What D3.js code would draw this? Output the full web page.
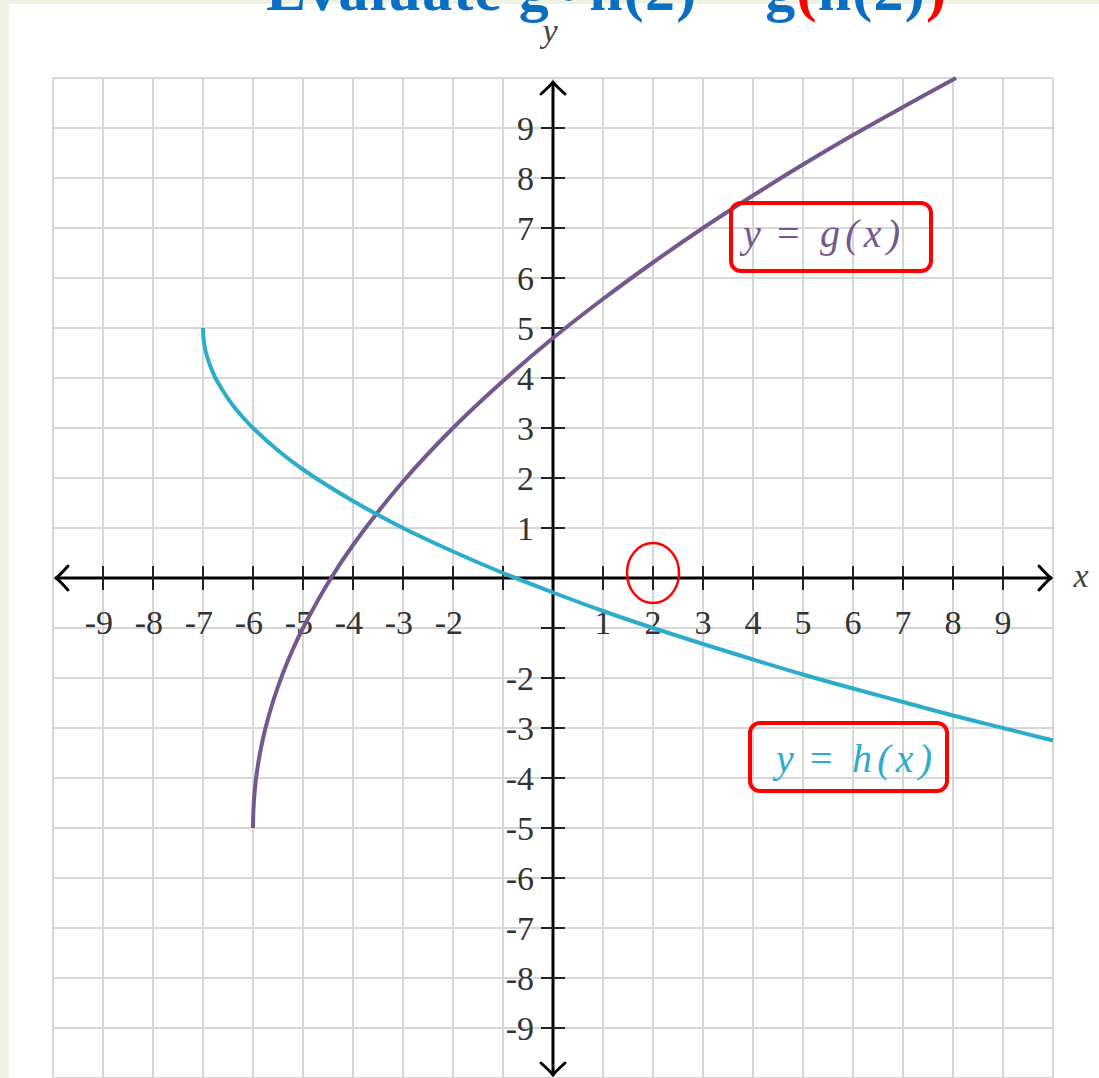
<!DOCTYPE html>
<html>
<head>
<meta charset="utf-8">
<script src="https://cdn.jsdelivr.net/npm/d3@7"></script>
<style>
  html, body { margin: 0; padding: 0; background: #eef2e2; overflow: hidden; }
  svg { display: block; }
</style>
</head>
<body>
<svg id="chart" width="1099" height="1078"></svg>
<script>
// Axis ticks (both axes use the same integer ticks)
const tickValues = [-9, -8, -7, -6, -5, -4, -3, -2, -1, 1, 2, 3, 4, 5, 6, 7, 8, 9];
const unlabeledTicks = [-1];
const gridValues = d3.range(-10, 11);

// y = g(x): purple curve, starts at (-6, -5) and leaves the grid at the top
const gX = [-6, -5.99, -5.97, -5.93, -5.85, -5.75, -5.6, -5.4, -5.2, -5, -4.5, -4, -3, -2, -1, 0, 1, 2, 3, 4, 5, 6, 7, 8.06];
const gY = [-5, -4.6, -4.31, -3.94, -3.45, -3, -2.47, -1.9, -1.42, -1, -0.1, 0.66, 1.93, 3, 3.94, 4.8, 5.58, 6.31, 7, 7.65, 8.27, 8.86, 9.42, 10];

// y = h(x): blue curve, starts at (-7, 5) and leaves the grid at the right
const hX = [-7, -6.99, -6.97, -6.93, -6.85, -6.75, -6.6, -6.4, -6.2, -6, -5.5, -5, -4, -3, -2, -1, 0, 1, 2, 3, 4, 5, 6, 7, 8, 9, 10];
const hY = [5, 4.8, 4.65, 4.47, 4.23, 4, 3.74, 3.45, 3.21, 3, 2.55, 2.17, 1.54, 1, 0.53, 0.1, -0.29, -0.66, -1, -1.32, -1.63, -1.93, -2.21, -2.48, -2.75, -3, -3.25];

const curveLabels = [
  { lhs: "y", rel: "=", rhs: "g(x)" },
  { lhs: "y", rel: "=", rhs: "h(x)" }
];
const curveColors = ["#75578f", "#2caccb"];

// highlighted input value on the x axis
const markedX = 2;

// heading pieces (colour per piece)
const titleParts = [
  { text: "Evaluate g\u2218h(2) = g", color: "#0a6fc2" },
  { text: "(", color: "#ff0000" },
  { text: "h(2)", color: "#0a6fc2" },
  { text: ")", color: "#ff0000" }
];

const W = 1099, H = 1078;
const svg = d3.select("#chart");

// page panel
svg.append("rect").attr("x", 9).attr("y", 4).attr("width", W - 9).attr("height", H - 4).attr("fill", "#ffffff");

const x = d3.scaleLinear().domain([-10, 10]).range([53, 1053]);
const y = d3.scaleLinear().domain([-10, 10]).range([1078, 78]);

// heading
const title = svg.append("text")
  .attr("x", 266).attr("y", 10)
  .attr("font-family", "'Liberation Serif', 'Times New Roman', serif")
  .attr("font-weight", "bold")
  .attr("font-size", 60)
  .attr("textLength", 680)
  .attr("lengthAdjust", "spacing");
title.selectAll("tspan").data(titleParts).join("tspan")
  .attr("fill", d => d.color)
  .text(d => d.text);

// grid
const grid = svg.append("g").attr("stroke", "#d6d6d6").attr("stroke-width", 2);
grid.selectAll("line.v").data(gridValues).join("line").attr("class", "v")
  .attr("x1", d => x(d)).attr("x2", d => x(d))
  .attr("y1", y(10)).attr("y2", y(-10));
grid.selectAll("line.h").data(gridValues).join("line").attr("class", "h")
  .attr("x1", x(-10)).attr("x2", x(10))
  .attr("y1", d => y(d)).attr("y2", d => y(d));

// axis lines with chevron arrowheads
const axes = svg.append("g").attr("stroke", "#000").attr("fill", "none")
  .attr("stroke-width", 3).attr("stroke-linecap", "round").attr("stroke-linejoin", "round");
const x0 = x(0), y0 = y(0);
const xl = x(-10) + 3, xr = x(10) - 2, yt = y(10) + 4, yb = y(-10) - 3;
axes.append("line").attr("x1", xl).attr("x2", xr).attr("y1", y0).attr("y2", y0);
axes.append("line").attr("x1", x0).attr("x2", x0).attr("y1", yt).attr("y2", yb);
const a = 12;
axes.append("path").attr("d", `M${xl + a},${y0 - a} Q${xl + 3},${y0 - 2} ${xl},${y0} Q${xl + 3},${y0 + 2} ${xl + a},${y0 + a}`);
axes.append("path").attr("d", `M${xr - a},${y0 - a} Q${xr - 3},${y0 - 2} ${xr},${y0} Q${xr - 3},${y0 + 2} ${xr - a},${y0 + a}`);
axes.append("path").attr("d", `M${x0 - a},${yt + a} Q${x0 - 2},${yt + 3} ${x0},${yt} Q${x0 + 2},${yt + 3} ${x0 + a},${yt + a}`);
axes.append("path").attr("d", `M${x0 - a},${yb - a} Q${x0 - 2},${yb - 3} ${x0},${yb} Q${x0 + 2},${yb - 3} ${x0 + a},${yb - a}`);

// ticks
const ticks = svg.append("g").attr("stroke", "#222").attr("stroke-width", 2);
ticks.selectAll("line.xt").data(tickValues).join("line").attr("class", "xt")
  .attr("x1", d => x(d)).attr("x2", d => x(d)).attr("y1", y0 - 12).attr("y2", y0 + 12);
ticks.selectAll("line.yt").data(tickValues).join("line").attr("class", "yt")
  .attr("y1", d => y(d)).attr("y2", d => y(d)).attr("x1", x0 - 12).attr("x2", x0 + 12);

// tick labels
const labelFont = "'Liberation Serif', 'Times New Roman', serif";
const labelled = tickValues.filter(v => !unlabeledTicks.includes(v));
const fmt = v => (v < 0 ? "-" : "") + Math.abs(v);
svg.append("g").selectAll("text").data(labelled).join("text")
  .attr("x", d => d < 0 ? x(d) + 10 : x(d))
  .attr("y", y0 + 56)
  .attr("text-anchor", d => d < 0 ? "end" : "middle")
  .attr("font-family", labelFont).attr("font-size", 34).attr("fill", "#333")
  .text(fmt);
svg.append("g").selectAll("text").data(labelled).join("text")
  .attr("x", x0 - 19)
  .attr("y", d => y(d) + 12)
  .attr("text-anchor", "end")
  .attr("font-family", labelFont).attr("font-size", 34).attr("fill", "#333")
  .text(fmt);

// axis names
svg.append("text").attr("x", 1081).attr("y", y0 + 9).attr("text-anchor", "middle")
  .attr("font-family", labelFont).attr("font-style", "italic").attr("font-size", 34).attr("fill", "#444").text("x");
svg.append("text").attr("x", x0 - 3).attr("y", 42).attr("text-anchor", "middle")
  .attr("font-family", labelFont).attr("font-style", "italic").attr("font-size", 34).attr("fill", "#444").text("y");

// curves
const line = d3.line().x(d => x(d[0])).y(d => y(d[1])).curve(d3.curveCatmullRom.alpha(0.5));
const series = [d3.zip(gX, gY), d3.zip(hX, hY)];
svg.append("g").selectAll("path").data(series).join("path")
  .attr("d", line)
  .attr("fill", "none")
  .attr("stroke", (d, i) => curveColors[i])
  .attr("stroke-width", 4)
  .attr("stroke-linecap", "butt");

// curve labels in red boxes
const boxes = [
  { x: 731, y: 203, w: 200, h: 68, ty: 247, xs: [743, 777, 820] },
  { x: 750, y: 723, w: 197, h: 68, ty: 772, xs: [776, 810, 852] }
];
const lab = svg.append("g").selectAll("g").data(curveLabels).join("g");
lab.append("rect")
  .attr("x", (d, i) => boxes[i].x).attr("y", (d, i) => boxes[i].y)
  .attr("width", (d, i) => boxes[i].w).attr("height", (d, i) => boxes[i].h)
  .attr("rx", 10).attr("fill", "none").attr("stroke", "#f00").attr("stroke-width", 4);
const labText = lab.append("text")
  .attr("y", (d, i) => boxes[i].ty)
  .attr("font-family", labelFont).attr("font-size", 40)
  .attr("fill", (d, i) => curveColors[i]);
labText.append("tspan").attr("x", (d, i) => boxes[i].xs[0]).attr("font-style", "italic").text(d => d.lhs);
labText.append("tspan").attr("x", (d, i) => boxes[i].xs[1]).text(d => d.rel);
labText.append("tspan").attr("x", (d, i) => boxes[i].xs[2]).attr("font-style", "italic")
  .attr("textLength", 80).attr("lengthAdjust", "spacing").text(d => d.rhs);

// circle around the marked input
svg.append("ellipse")
  .attr("cx", x(markedX)).attr("cy", y0 - 5)
  .attr("rx", 26).attr("ry", 30)
  .attr("fill", "none").attr("stroke", "#f00").attr("stroke-width", 2.5);
</script>
</body>
</html>
